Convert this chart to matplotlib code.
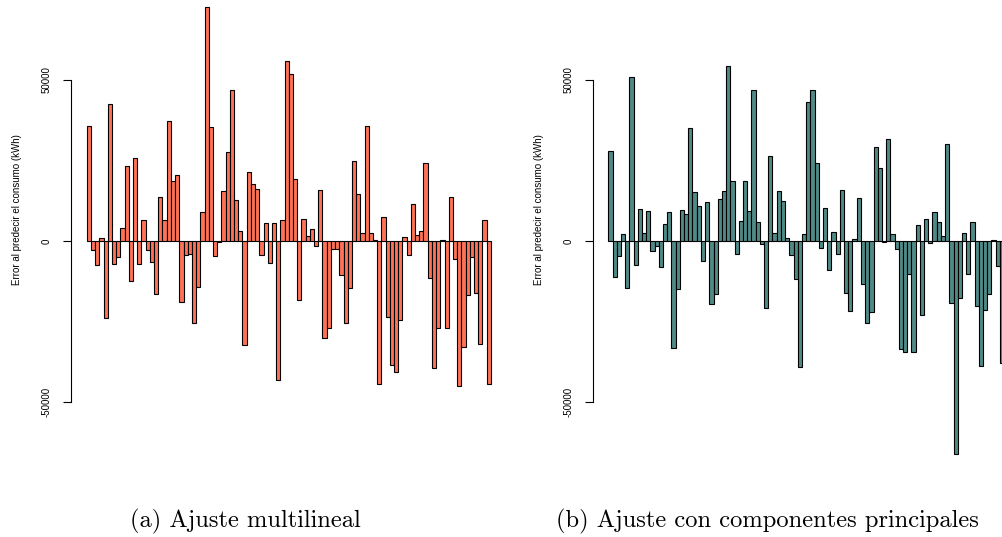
import numpy as np
import matplotlib.pyplot as plt

# errores de prediccion del consumo (kWh) por observacion
err_multi = [35800, -2800, -7450, 830, -24000, 42700, -7100, -5070, 3930, 23200,
             -12400, 25900, -7100, 6500, -2800, -6400, -16350, 13560, 6500, 37150,
             18500, 20600, -19000, -4450, -4040, -25350, -14300, 8900, 72760, 35300,
             -4650, -300, 15500, 27500, 46900, 12600, 3000, -32300, 21500, 17600,
             16250, -4450, 5600, -6700, 5600, -43260, 6500, 55800, 51750, 19150,
             -18400, 6900, 1550, 3600, -1450, 15900, -30000, -27000, -2600, -2600,
             -10450, -25550, -14600, 24950, 14600, 2400, 35800, 2600, 300, -44300,
             7550, -23700, -38600, -40600, -24600, 1140, -4450, 11600, 1860, 3000,
             24200, -11400, -39600, -27000, 300, -27000, 13560, -5700, -45000, -33000,
             -16700, -5070, -16000, -32000, 6500, -44300]

err_pca = [27950, -11280, -4660, 2070, -14600, 50900, -7350, 9940, 2380, 9300,
           -3000, -1660, -7970, 5380, 9000, -33200, -15000, 9600, 8380, 35000,
           15300, 10760, -6300, 12000, -19660, -16350, 13040, 15630, 54200, 18630,
           -4040, 6300, 18600, 9200, 46900, 6000, -1000, -20900, 26500, 2380,
           15600, 12300, 1000, -4400, -11700, -39200, 2070, 43200, 46900, 24200,
           -2300, 10300, -9000, 2700, -4000, 15900, -16300, -21600, 700, 13250,
           -13300, -25600, -22000, 29300, 22600, -200, 31570, 2070, -2380, -33500,
           -34570, -10250, -34570, 4970, -22980, 6930, -620, 9000, 6000, 1650,
           30220, -19250, -66100, -17600, 2380, -10250, 6000, -20200, -38700, -21500,
           -16560, 310, -7660, -37900]

ylab = "Error al predecir el consumo (kWh)"
yticks = [-50000, 0, 50000]
yticklabels = ["-50000", "0", "50000"]

W, H = 1003, 537
fig = plt.figure(figsize=(W / 100, H / 100), dpi=100)


def axes_px(left, top, width, height):
    return fig.add_axes([left / W, 1 - (top + height) / H, width / W, height / H])


def panel(ax, values, color):
    x = np.arange(len(values))
    ax.bar(x, values, width=1.0, color=color, edgecolor="black", linewidth=0.8)
    step = 4.21
    ax.set_xlim(-15.7 / step - 0.5, (429 - 15.7) / step - 0.5)
    ax.set_ylim((241 - 470) * 310.6, 241 * 310.6)
    for s in ["top", "right", "bottom"]:
        ax.spines[s].set_visible(False)
    ax.spines["left"].set_bounds(-50000, 50000)
    ax.spines["left"].set_linewidth(0.8)
    ax.set_xticks([])
    ax.set_yticks(yticks)
    ax.set_yticklabels(yticklabels, rotation=90, va="center",
                       family="Liberation Sans", fontsize=7)
    ax.tick_params(axis="y", length=5.8, width=0.8, pad=8)
    ax.set_ylabel(ylab, family="Liberation Sans", fontsize=7)
    ax.yaxis.set_label_coords(-49 / 429, 0.555)


ax1 = axes_px(71, 0, 429, 470)
panel(ax1, err_multi, "#FF7256")
ax2 = axes_px(592.6, 0, 429, 470)
panel(ax2, err_pca, "#4F8A87")

fig.text(245.5 / W, 1 - 521 / H, "(a) Ajuste multilineal", ha="center", va="center",
         family="cmr10", fontsize=17.6)
fig.text(767 / W, 1 - 521 / H, "(b) Ajuste con componentes principales", ha="center",
         va="center", family="cmr10", fontsize=17.6)

fig.savefig("out.png", dpi=100)
